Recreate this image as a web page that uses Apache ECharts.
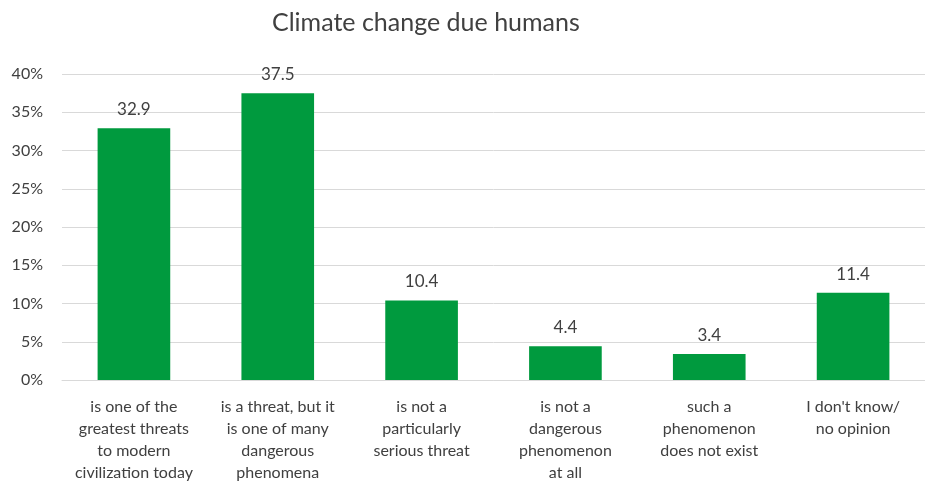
<!DOCTYPE html>
<html>
<head>
<meta charset="utf-8">
<script src="https://cdn.jsdelivr.net/npm/echarts@6/dist/echarts.min.js"></script>
<style>
  html, body { margin: 0; padding: 0; background: #fff; overflow: hidden; }
  #chart { width: 925px; height: 486px; }
</style>
</head>
<body>
<div id="chart"></div>
<script>
// Survey answers and their shares (%)
const categories = [
  'is one of the\ngreatest threats\nto modern\ncivilization today',
  'is a threat, but it\nis one of many\ndangerous\nphenomena',
  'is not a\nparticularly\nserious threat',
  'is not a\ndangerous\nphenomenon\nat all',
  'such a\nphenomenon\ndoes not exist',
  "I don't know/\nno opinion"
];
const shares = [32.9, 37.5, 10.4, 4.4, 3.4, 11.4];
const yTicks = { min: 0, max: 40, interval: 5 };

const font = 'Lato, "Open Sans", sans-serif';
const chart = echarts.init(document.getElementById('chart'));
chart.setOption({
  animation: false,
  title: {
    text: 'Climate change due humans',
    left: 267,
    top: 5,
    textStyle: { fontFamily: font, fontSize: 25, fontWeight: 'normal', color: '#404040' }
  },
  grid: { left: 62, right: -5, top: 74, bottom: 106, containLabel: false },
  xAxis: {
    type: 'category',
    data: categories,
    axisLine: { lineStyle: { color: '#d9d9d9', width: 1 } },
    axisTick: { show: false },
    axisLabel: {
      interval: 0,
      margin: 16,
      fontFamily: font,
      fontSize: 16,
      lineHeight: 22,
      color: '#404040'
    }
  },
  yAxis: {
    type: 'value',
    min: yTicks.min,
    max: yTicks.max,
    interval: yTicks.interval,
    axisLine: { show: false },
    axisTick: { show: false },
    splitLine: { lineStyle: { color: '#d9d9d9', width: 1 } },
    axisLabel: {
      formatter: '{value}%',
      margin: 19,
      fontFamily: font,
      fontSize: 16,
      color: '#404040'
    }
  },
  series: [{
    type: 'bar',
    data: shares,
    barWidth: '50.5%',
    itemStyle: { color: '#009a3e' },
    label: {
      show: true,
      position: 'top',
      distance: 10,
      fontFamily: font,
      fontSize: 17,
      color: '#404040',
      formatter: p => p.value.toFixed(1)
    }
  }]
});
</script>
</body>
</html>
